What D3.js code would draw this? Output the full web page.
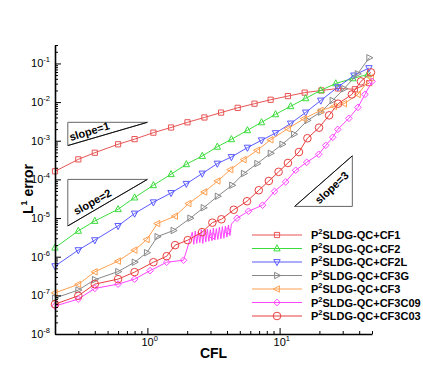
<!DOCTYPE html>
<html><head><meta charset="utf-8">
<script src="https://cdn.jsdelivr.net/npm/d3@7"></script>
<style>body{margin:0;background:#fff}svg{display:block}</style>
</head><body><svg id="c" width="423" height="376"></svg>
<script>
// ---------- data ----------
const cf1Cfl = [0.2,0.3,0.4,0.6,0.8,1.11,1.51,2.01,2.7,3.61,4.82,6.46,8.55,11.56,15.48,20.73,27.71,37.1,47.6];
const cf1Err = [1.62e-4,3.3e-4,4.9e-4,8.1e-4,1.1e-3,1.62e-3,2.2e-3,3.0e-3,4.0e-3,5.35e-3,7.1e-3,9.1e-3,1.15e-2,1.43e-2,1.76e-2,2.0e-2,2.25e-2,2.15e-2,3.1e-2];

const cf2Cfl = [0.2,0.3,0.4,0.6,0.8,1.11,1.51,1.97,2.6,3.38,4.32,5.71,7.3,9.32,12.12,15.75,20.48,26.62,35.84,46.58];
const cf2Err = [1.71e-6,4.66e-6,8.4e-6,1.69e-5,3.39e-5,7.05e-5,1.36e-4,2.46e-4,4.03e-4,6.96e-4,1.09e-3,1.86e-3,2.99e-3,4.82e-3,7.8e-3,1.25e-2,2.01e-2,3.04e-2,4.1e-2,5.2e-2];

const cf2lCfl = [0.2,0.3,0.4,0.6,0.8,1.11,1.51,1.97,2.6,3.38,4.32,5.71,7.3,9.32,12.12,15.75,20.48,27.56,36.47,47.4];
const cf2lErr = [5.7e-7,1.48e-6,2.68e-6,6.27e-6,1.31e-5,2.56e-5,4.46e-5,7.7e-5,1.42e-4,2.57e-4,3.8e-4,6.64e-4,1.03e-3,1.58e-3,2.8e-3,5.4e-3,1.1e-2,2.44e-2,4.9e-2,7.6e-2];

const cf3gCfl = [0.2,0.3,0.4,0.6,0.8,0.99,1.19,1.575,2.11,2.66,3.4,4.37,5.36,6.77,8.55,10.48,12.85,16.23,20.48,25.13,30.78,38.9,47.65];
const cf3gErr = [8.5e-8,1.37e-7,2.55e-7,4.11e-7,7.2e-7,1.27e-6,3.3e-6,4.77e-6,9.9e-6,1.85e-5,3.66e-5,7.05e-5,1.42e-4,2.57e-4,4.73e-4,8.1e-4,1.47e-3,3.37e-3,5.5e-3,1.1e-2,2.22e-2,5.4e-2,1.4e-1];

const cf3Cfl = [0.2,0.3,0.4,0.6,0.8,0.99,1.19,1.62,2.05,2.7,3.4,4.25,5.36,6.77,8.55,11.56,15.3,20.48,25.84,30.78,39.12,49.09];
const cf3Err = [1.16e-7,1.92e-7,4.06e-7,7.67e-7,1.48e-6,2.79e-6,7.2e-6,1.12e-5,2.38e-5,4.73e-5,9.1e-5,1.79e-4,3.25e-4,5.66e-4,1.06e-3,2.06e-3,3.73e-3,6.1e-3,7.7e-3,9.1e-3,1.58e-2,4.3e-2];

const cf3c09Cfl = [0.2,0.3,0.4,0.6,0.8,1.048,1.40,1.877,3.11,4.05,4.76,5.82,7.43,9.16,11.11,13.23,16.03,19.78,22.35,25.26,27.56,33.42,39.12,44.2,50];
const cf3c09Err = [5.3e-8,8.0e-8,1.51e-7,1.95e-7,2.63e-7,4.36e-7,7.2e-7,8.1e-7,3.4e-6,4.6e-6,9.9e-6,1.5e-5,2.15e-5,4.9e-5,8.6e-5,1.72e-4,2.77e-4,4.46e-4,7.6e-4,1.23e-3,1.97e-3,3.8e-3,7.3e-3,1.58e-2,3.43e-2];
// oscillating stretch of CF3C09 (drawn as line only, no symbols)
const cf3c09OscCfl = [2.185,2.243,2.302,2.363,2.427,2.491,2.557,2.625,2.695,2.766,2.840,2.915,2.992,3.072,3.154,3.238,3.323,3.412,3.503,3.596,3.691,3.790,3.890,3.994,4.100,4.209,4.320];
const cf3c09OscErr = [4.3e-6,2.1e-6,4.6e-6,2.2e-6,4.4e-6,2.3e-6,5.0e-6,2.2e-6,4.8e-6,2.4e-6,5.2e-6,2.5e-6,5.0e-6,2.6e-6,5.5e-6,2.7e-6,5.3e-6,2.8e-6,5.8e-6,2.9e-6,6.0e-6,3.0e-6,6.2e-6,3.2e-6,6.6e-6,3.5e-6,7.0e-6];

const cf3c03Cfl = [0.2,0.3,0.4,0.6,0.8,1.11,1.40,1.62,2.02,2.59,3.10,3.63,4.50,5.67,6.96,8.29,9.83,11.56,14.01,16.23,19.88,23.68,27.7,35.22,41.22,49.09];
const cf3c03Err = [5.9e-8,9.75e-8,1.95e-7,2.63e-7,3.99e-7,7.2e-7,1.03e-6,1.99e-6,2.68e-6,4.31e-6,7.6e-6,9.3e-6,1.64e-5,2.72e-5,5.24e-5,9.1e-5,1.57e-4,2.66e-4,5.1e-4,1.16e-3,2.18e-3,4.54e-3,9.1e-3,1.58e-2,3.43e-2,5.86e-2];

const seriesNames = ["CF1","CF2","CF2L","CF3G","CF3","CF3C09","CF3C03"];
const xMajorTicks = [1, 10];
const xTickExps = ["0","1"];
const yMajorTicks = [1e-8,1e-7,1e-6,1e-5,1e-4,1e-3,1e-2,1e-1];
const yTickExps = ["-8","-7","-6","-5","-4","-3","-2","-1"];
const xDomain = [0.2, 50];
const yDomain = [1e-8, 0.3];
const slope1Tri = [[0.25,3e-3],[1.0,3e-3],[0.25,7.5e-4]];
const slope2Tri = [[0.25,1e-4],[1.0,1e-4],[0.25,6.25e-6]];
const slope3Tri = [[13,2e-5],[35.5,2e-5],[35.5,4.07e-4]];
const slopeLabels = ["slope=1","slope=2","slope=3"];
const slopeLabelPos = [[0.364,1.75e-3],[0.384,2.61e-5],[24.8,6.1e-5]];

// ---------- chart ----------
const svg = d3.select("#c");
const x = d3.scaleLog().domain(xDomain).range([55, 372]);
const y = d3.scaleLog().domain(yDomain).range([334, 45]);
const FONT = "Liberation Sans, Arial, Helvetica, sans-serif";

const styles = [
  {color:"#e85454", sym:"square"},
  {color:"#3ddc3d", sym:"triUp"},
  {color:"#5a5aff", sym:"triDown"},
  {color:"#888888", sym:"triRight"},
  {color:"#ffa050", sym:"triLeft"},
  {color:"#ff44ff", sym:"diamond"},
  {color:"#e84040", sym:"circle"}
];

const zip = (a,b) => a.map((v,i)=>[v,b[i]]);
const series = [
  {pts: zip(cf1Cfl,cf1Err)},
  {pts: zip(cf2Cfl,cf2Err)},
  {pts: zip(cf2lCfl,cf2lErr)},
  {pts: zip(cf3gCfl,cf3gErr)},
  {pts: zip(cf3Cfl,cf3Err)},
  {pts: zip(cf3c09Cfl,cf3c09Err), extra: zip(cf3c09OscCfl,cf3c09OscErr)},
  {pts: zip(cf3c03Cfl,cf3c03Err)}
];

function symPath(sym, cx, cy){
  switch(sym){
    case "square": return `M${cx-2.6},${cy-2.6}h5.2v5.2h-5.2Z`;
    case "triUp": return `M${cx},${cy-3.7}L${cx+3.2},${cy+2.4}L${cx-3.2},${cy+2.4}Z`;
    case "triDown": return `M${cx},${cy+3.7}L${cx+3.2},${cy-2.4}L${cx-3.2},${cy-2.4}Z`;
    case "triRight": return `M${cx+3.7},${cy}L${cx-2.4},${cy+3.2}L${cx-2.4},${cy-3.2}Z`;
    case "triLeft": return `M${cx-3.7},${cy}L${cx+2.4},${cy+3.2}L${cx+2.4},${cy-3.2}Z`;
    case "diamond": return `M${cx},${cy-3.3}L${cx+3.3},${cy}L${cx},${cy+3.3}L${cx-3.3},${cy}Z`;
    case "circle": return `M${cx-3.8},${cy}a3.8,3.8 0 1,0 7.6,0a3.8,3.8 0 1,0 -7.6,0Z`;
  }
}

const line = d3.line().x(d=>x(d[0])).y(d=>y(d[1]));

// slope triangles
[slope1Tri, slope2Tri, slope3Tri].forEach((tri,i)=>{
  svg.append("path").attr("d", line(tri)+"Z").attr("fill","none").attr("stroke","#666").attr("stroke-width",1);
  const hyp = i<2 ? [tri[1],tri[2]] : [tri[0],tri[2]];
  svg.append("path").attr("d", line(hyp)).attr("fill","none").attr("stroke","#111").attr("stroke-width",1);
  const p = slopeLabelPos[i];
  const ang = [-17,-29,-43][i];
  svg.append("text").attr("transform",`translate(${x(p[0])},${y(p[1])}) rotate(${ang})`)
    .attr("text-anchor","middle").attr("dy","0.35em")
    .attr("font-family",FONT).attr("font-weight","bold").attr("font-size",11)
    .text(slopeLabels[i]);
});

// series
series.forEach((s,i)=>{
  const st = styles[i];
  let all = s.pts.slice();
  if (s.extra) all = all.concat(s.extra).sort((a,b)=>a[0]-b[0]);
  svg.append("path").attr("d", line(all)).attr("fill","none").attr("stroke",st.color).attr("stroke-width",1);
  svg.append("g").selectAll("path").data(s.pts).join("path")
    .attr("d", d=>symPath(st.sym, x(d[0]), y(d[1])))
    .attr("fill","none").attr("stroke",st.color).attr("stroke-width",1);
});

// axes
const xMinor = [];
for (const dec of [0.1,1,10]) for (let k=2;k<=9;k++){ const v=k*dec; if(v>=xDomain[0]-1e-9 && v<=xDomain[1]+1e-9) xMinor.push(v);}
const yMinor = [];
for (let e=-8;e<=-1;e++) for (let k=2;k<=9;k++){ const v=k*Math.pow(10,e); if (v<=yDomain[1]+1e-12) yMinor.push(v);}

function styleAxis(g){ g.selectAll(".tick line").attr("stroke","#000").attr("stroke-width",1); }

const gxMin = svg.append("g").attr("transform","translate(0,334)")
  .call(d3.axisBottom(x).tickValues(xMinor).tickSize(-3).tickSizeOuter(0).tickFormat(""));
gxMin.select(".domain").remove(); styleAxis(gxMin);
const gx = svg.append("g").attr("transform","translate(0,334)")
  .call(d3.axisBottom(x).tickValues(xMajorTicks).tickSize(-6).tickSizeOuter(0).tickFormat(""));
gx.select(".domain").attr("stroke","#000").attr("stroke-width",1.6); styleAxis(gx);

const gyMin = svg.append("g").attr("transform","translate(55,0)")
  .call(d3.axisLeft(y).tickValues(yMinor).tickSize(-3).tickSizeOuter(0).tickFormat(""));
gyMin.select(".domain").remove(); styleAxis(gyMin);
const gy = svg.append("g").attr("transform","translate(55,0)")
  .call(d3.axisLeft(y).tickValues(yMajorTicks).tickSize(-6).tickSizeOuter(0).tickFormat(""));
gy.select(".domain").attr("stroke","#000").attr("stroke-width",1.6); styleAxis(gy);

// tick labels
xMajorTicks.forEach((v,i)=>{
  const t = svg.append("text").attr("x",x(v)-6).attr("y",346).attr("font-family",FONT).attr("font-size",11);
  t.append("tspan").text("10");
  t.append("tspan").attr("font-size",7.5).attr("dy",-5).text(xTickExps[i]);
});
yMajorTicks.forEach((v,i)=>{
  const t = svg.append("text").attr("x",50).attr("y",y(v)+4).attr("text-anchor","end").attr("font-family",FONT).attr("font-size",11);
  t.append("tspan").text("10");
  t.append("tspan").attr("font-size",7.5).attr("dy",-5).text(yTickExps[i]);
});

// axis titles
svg.append("text").attr("x",213.5).attr("y",358).attr("text-anchor","middle")
  .attr("font-family",FONT).attr("font-weight","bold").attr("font-size",14).text("CFL");
const yt = svg.append("text").attr("transform","translate(33,189) rotate(-90)").attr("text-anchor","middle")
  .attr("font-family",FONT).attr("font-weight","bold").attr("font-size",14);
yt.append("tspan").text("L");
yt.append("tspan").attr("font-size",9).attr("dy",-6).text("1");
yt.append("tspan").attr("dy",6).text(" error");

// legend
seriesNames.forEach((n,i)=>{
  const st = styles[i];
  const ly = 235 + i*13.5;
  svg.append("line").attr("x1",252).attr("x2",302).attr("y1",ly).attr("y2",ly).attr("stroke",st.color).attr("stroke-width",1.2);
  svg.append("path").attr("d",symPath(st.sym,277,ly)).attr("fill","none").attr("stroke",st.color).attr("stroke-width",1);
  const t = svg.append("text").attr("x",311).attr("y",ly+4).attr("font-family",FONT).attr("font-weight","bold").attr("font-size",11);
  t.append("tspan").text("P");
  t.append("tspan").attr("font-size",7.5).attr("dy",-5).text("2");
  t.append("tspan").attr("dy",5).text("SLDG-QC+" + n);
});
</script></body></html>
